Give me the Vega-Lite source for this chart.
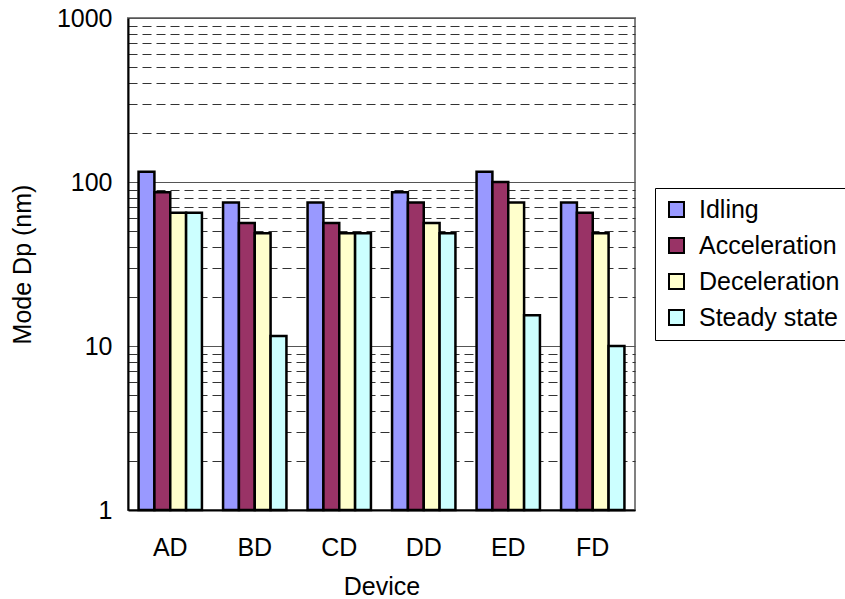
{
  "$schema": "https://vega.github.io/schema/vega-lite/v6.json",
  "width": 507,
  "height": 492,
  "autosize": {"type": "none"},
  "padding": {"left": 128, "top": 18, "right": 210, "bottom": 89},
  "background": "white",
  "config": {
    "font": "Liberation Sans",
    "view": {"stroke": "#808080", "strokeWidth": 2},
    "axis": {"labelColor": "black", "titleColor": "black", "titleFontWeight": "normal", "labelFont": "Liberation Sans", "titleFont": "Liberation Sans"}
  },
  "data": {
    "values": [
      {"Device": "AD", "Mode": "Idling", "Dp": 115.5},
      {"Device": "AD", "Mode": "Acceleration", "Dp": 86.6},
      {"Device": "AD", "Mode": "Deceleration", "Dp": 64.9},
      {"Device": "AD", "Mode": "Steady state", "Dp": 64.9},
      {"Device": "BD", "Mode": "Idling", "Dp": 75},
      {"Device": "BD", "Mode": "Acceleration", "Dp": 56.2},
      {"Device": "BD", "Mode": "Deceleration", "Dp": 48.7},
      {"Device": "BD", "Mode": "Steady state", "Dp": 11.5},
      {"Device": "CD", "Mode": "Idling", "Dp": 75},
      {"Device": "CD", "Mode": "Acceleration", "Dp": 56.2},
      {"Device": "CD", "Mode": "Deceleration", "Dp": 48.7},
      {"Device": "CD", "Mode": "Steady state", "Dp": 48.7},
      {"Device": "DD", "Mode": "Idling", "Dp": 86.6},
      {"Device": "DD", "Mode": "Acceleration", "Dp": 75},
      {"Device": "DD", "Mode": "Deceleration", "Dp": 56.2},
      {"Device": "DD", "Mode": "Steady state", "Dp": 48.7},
      {"Device": "ED", "Mode": "Idling", "Dp": 115.5},
      {"Device": "ED", "Mode": "Acceleration", "Dp": 100},
      {"Device": "ED", "Mode": "Deceleration", "Dp": 75},
      {"Device": "ED", "Mode": "Steady state", "Dp": 15.4},
      {"Device": "FD", "Mode": "Idling", "Dp": 75},
      {"Device": "FD", "Mode": "Acceleration", "Dp": 64.9},
      {"Device": "FD", "Mode": "Deceleration", "Dp": 48.7},
      {"Device": "FD", "Mode": "Steady state", "Dp": 10}
    ]
  },
  "mark": {"type": "bar", "stroke": "black", "strokeWidth": 2.5, "opacity": 1},
  "encoding": {
    "x": {
      "field": "Device", "type": "nominal",
      "scale": {"paddingInner": 0.25, "paddingOuter": 0.125},
      "axis": {
        "labelAngle": 0, "labelFontSize": 25, "labelBaseline": "middle", "labelPadding": 37,
        "ticks": false, "domainColor": "black", "domainWidth": 2,
        "title": "Device", "titleFontSize": 25, "titleY": 76, "titleBaseline": "middle"
      }
    },
    "xOffset": {
      "field": "Mode", "type": "nominal",
      "sort": ["Idling", "Acceleration", "Deceleration", "Steady state"],
      "scale": {"paddingInner": 0, "paddingOuter": 0}
    },
    "y": {
      "field": "Dp", "type": "quantitative",
      "scale": {"type": "log", "domain": [1, 1000], "nice": false},
      "axis": {
        "values": [1, 2, 3, 4, 5, 6, 7, 8, 9, 10, 20, 30, 40, 50, 60, 70, 80, 90, 100, 200, 300, 400, 500, 600, 700, 800, 900, 1000],
        "format": "d",
        "labelExpr": "indexof([1,10,100,1000], datum.value) >= 0 ? datum.label : ''",
        "labelOverlap": false,
        "labelFontSize": 25, "labelPadding": 16, "labelBaseline": "middle",
        "ticks": false,
        "domainColor": "black", "domainWidth": 2,
        "grid": true,
        "gridColor": {"condition": {"test": "indexof([1,10,100,1000], datum.value) >= 0", "value": "#555555"}, "value": "#333333"},
        "gridDash": {"condition": {"test": "indexof([1,10,100,1000], datum.value) >= 0", "value": []}, "value": [9, 5]},
        "gridWidth": 1,
        "title": "Mode Dp (nm)", "titleFontSize": 25, "titleX": -106, "titleY": 246, "titleAngle": -90, "titleAlign": "center", "titleBaseline": "middle"
      }
    },
    "y2": {"datum": 1},
    "color": {
      "field": "Mode", "type": "nominal",
      "sort": ["Idling", "Acceleration", "Deceleration", "Steady state"],
      "scale": {"domain": ["Idling", "Acceleration", "Deceleration", "Steady state"], "range": ["#9999FF", "#993366", "#FFFFCC", "#CCFFFF"]},
      "legend": {
        "title": null, "orient": "none", "legendX": 527, "legendY": 170,
        "fillColor": "white", "strokeColor": "black", "padding": 9,
        "symbolType": "square", "symbolSize": 225, "symbolStrokeColor": "black", "symbolStrokeWidth": 2, "symbolOpacity": 1,
        "labelFontSize": 25, "labelColor": "black", "labelFont": "Liberation Sans", "labelOffset": 10, "rowPadding": 10
      }
    }
  }
}
